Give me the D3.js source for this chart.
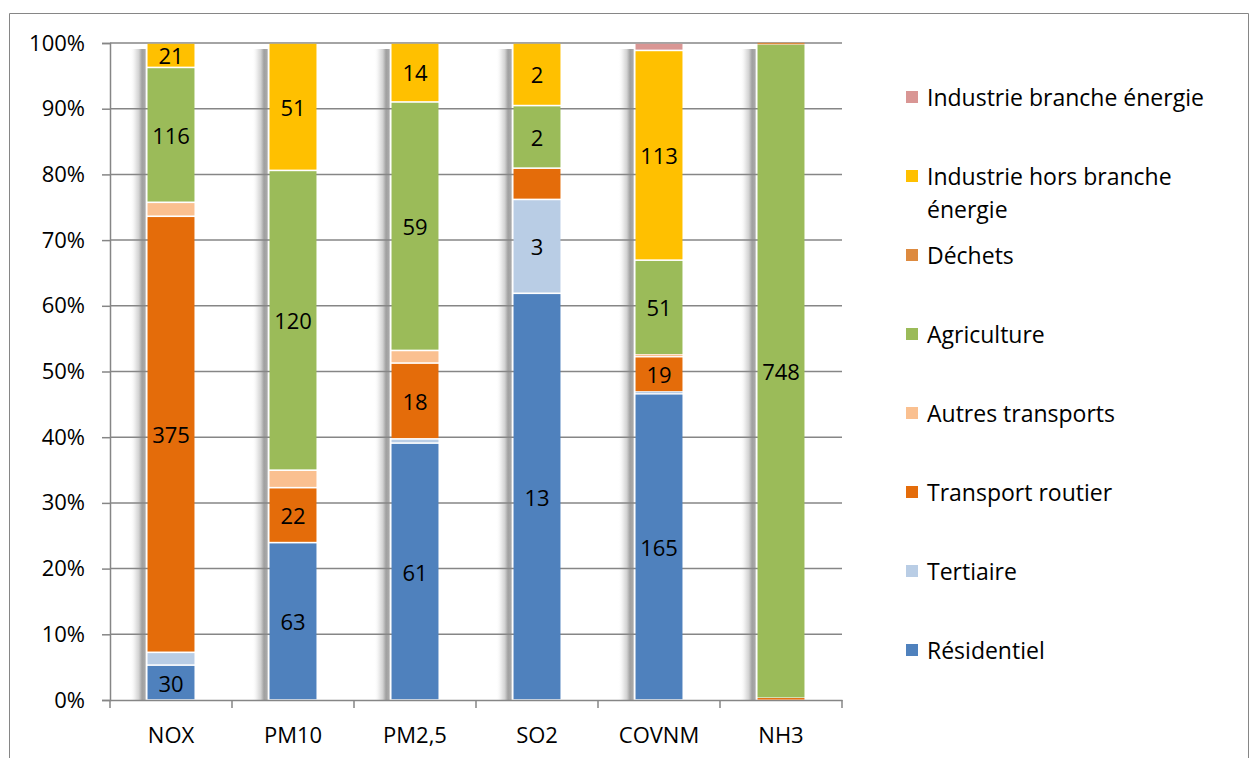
<!DOCTYPE html>
<html><head><meta charset="utf-8">
<script src="https://cdn.jsdelivr.net/npm/d3@7/dist/d3.min.js"></script>
<style>body{margin:0;background:#fff}svg{display:block}text{font-family:"Open Sans",Lato,sans-serif;fill:#000}</style>
</head><body><svg id="c" width="1252" height="758"></svg>
<script>
const categories = ["NOX","PM10","PM2,5","SO2","COVNM","NH3"];
const seriesNames = ["Résidentiel","Tertiaire","Transport routier","Autres transports","Agriculture","Déchets","Industrie hors branche énergie","Industrie branche énergie"];
const residentiel      = [30, 63, 61, 13, 165, 0];
const tertiaire        = [11, 0, 1, 3, 1, 0];
const transportRoutier = [375, 22, 18, 1, 19, 2];
const autresTransports = [12, 7, 3, 0, 1, 0];
const agriculture      = [116, 120, 59, 2, 51, 748];
const dechets          = [0, 0, 0, 0, 0, 1];
const industrieHors    = [21, 51, 14, 2, 113, 0];
const industrieBranche = [0, 0, 0, 0, 4, 0];
// which data labels are displayed
const labResidentiel = [1,1,1,1,1,0];
const labTertiaire   = [0,0,0,1,0,0];
const labTransport   = [1,1,1,0,1,0];
const labAutres      = [0,0,0,0,0,0];
const labAgriculture = [1,1,1,1,1,1];
const labDechets     = [0,0,0,0,0,0];
const labIndHors     = [1,1,1,1,1,0];
const labIndBranche  = [0,0,0,0,0,0];
const yTicks = [0,0.1,0.2,0.3,0.4,0.5,0.6,0.7,0.8,0.9,1];
const colors = ["#4F81BD","#B9CDE5","#E46C0A","#FAC090","#9BBB59","#DD8A3F","#FFC000","#D99694"];

const seriesValues = [residentiel,tertiaire,transportRoutier,autresTransports,agriculture,dechets,industrieHors,industrieBranche];
const seriesLabels = [labResidentiel,labTertiaire,labTransport,labAutres,labAgriculture,labDechets,labIndHors,labIndBranche];

const rows = categories.map((c,i)=>{
  const r = {cat:c};
  seriesNames.forEach((s,j)=>r[s]=seriesValues[j][i]);
  return r;
});
const stack = d3.stack().keys(seriesNames).offset(d3.stackOffsetExpand)(rows);

const svg = d3.select("#c");
const X0=110, X1=842, Y0=43, Y1=700;
const FS = 22, LFS = 23;
const x = d3.scaleBand().domain(categories).range([X0,X1]).paddingInner(0.607).paddingOuter(0.3035);
const y = d3.scaleLinear().domain([0,1]).range([Y1,Y0]);
const axisCol = "#868686";

// outer border
svg.append("path").attr("d","M9.5,760 V13.5 H1248.5 V760").attr("fill","none").attr("stroke",axisCol).attr("stroke-width",1);

// shadows
const defs = svg.append("defs");
const g = defs.append("linearGradient").attr("id","sh").attr("x1","0").attr("x2","1").attr("y1","0").attr("y2","0");
[[0,"#ffffff",0],[0.3,"#eeeeee",1],[0.55,"#d2d2d2",1],[0.75,"#a0a0a0",1],[0.92,"#a8a8a8",1],[1,"#dcdcdc",1]].forEach(s=>
  g.append("stop").attr("offset",s[0]).attr("stop-color",s[1]).attr("stop-opacity",s[2]));
svg.append("g").selectAll("rect").data(categories).join("rect")
  .attr("x",d=>x(d)-17).attr("width",16)
  .attr("y",Y0+6).attr("height",Y1-Y0-6)
  .attr("fill","url(#sh)");

// gridlines
const grid = svg.append("g");
grid.selectAll("line").data(yTicks.slice(1)).join("line")
  .attr("x1",X0).attr("x2",X1).attr("y1",d=>y(d)).attr("y2",d=>y(d))
  .attr("stroke",axisCol).attr("stroke-width",1.5);

// y axis
const yAxis = d3.axisLeft(y).tickValues(yTicks).tickFormat(d3.format(".0%")).tickSize(8).tickPadding(17);
const ya = svg.append("g").attr("transform",`translate(${X0},0)`).call(yAxis);
ya.select(".domain").attr("stroke",axisCol).attr("stroke-width",1.5);
ya.selectAll(".tick line").attr("stroke",axisCol).attr("stroke-width",1.5);
ya.selectAll(".tick text").attr("font-size",FS).attr("font-family","Open Sans").attr("fill","#000");

// x axis
const xa = svg.append("g").attr("transform",`translate(0,${Y1})`).call(d3.axisBottom(x).tickSize(0).tickPadding(27));
xa.select(".domain").attr("stroke",axisCol).attr("stroke-width",1.5);
xa.selectAll(".tick text").attr("font-size",FS).attr("font-family","Open Sans").attr("fill","#000");
const bounds = d3.range(categories.length+1).map(i=>X0+i*x.step());
svg.append("g").selectAll("line").data(bounds).join("line")
  .attr("x1",d=>d).attr("x2",d=>d).attr("y1",Y1).attr("y2",Y1+8)
  .attr("stroke",axisCol).attr("stroke-width",1.5);

// bars (white gaps between segments)
const layers = svg.append("g").selectAll("g").data(stack).join("g").attr("fill",(d,i)=>colors[i]);
layers.selectAll("rect").data(d=>d.filter(p=>p[1]-p[0]>0)).join("rect")
  .attr("x",d=>x(d.data.cat)+0.5).attr("width",x.bandwidth()-1)
  .attr("y",d=>{const h=y(d[0])-y(d[1]); return h>3 ? y(d[1])+0.8 : y(d[1])-0.2;})
  .attr("height",d=>{const h=y(d[0])-y(d[1]); return h>3 ? h-1.6 : 1.5;});

// data labels
const lab = svg.append("g");
stack.forEach((layer,j)=>{
  layer.forEach((p,i)=>{
    if(!seriesLabels[j][i]) return;
    lab.append("text").attr("x",x(p.data.cat)+x.bandwidth()/2).attr("y",(y(p[0])+y(p[1]))/2)
      .attr("text-anchor","middle").attr("dominant-baseline","central")
      .attr("font-size",FS).text(seriesValues[j][i]);
  });
});

// legend
const legendOrder = d3.range(seriesNames.length).reverse();
const legendLines = {"Industrie hors branche énergie":["Industrie hors branche","énergie"]};
const lg = svg.append("g");
legendOrder.forEach((j,k)=>{
  const cy = 97 + k*79;
  lg.append("rect").attr("x",906).attr("y",cy-6).attr("width",12).attr("height",12).attr("fill",colors[j]);
  const lines = legendLines[seriesNames[j]] || [seriesNames[j]];
  lines.forEach((t,li)=>{
    lg.append("text").attr("x",927).attr("y",cy+li*33).attr("dominant-baseline","central")
      .attr("font-size",LFS).text(t);
  });
});
</script></body></html>
